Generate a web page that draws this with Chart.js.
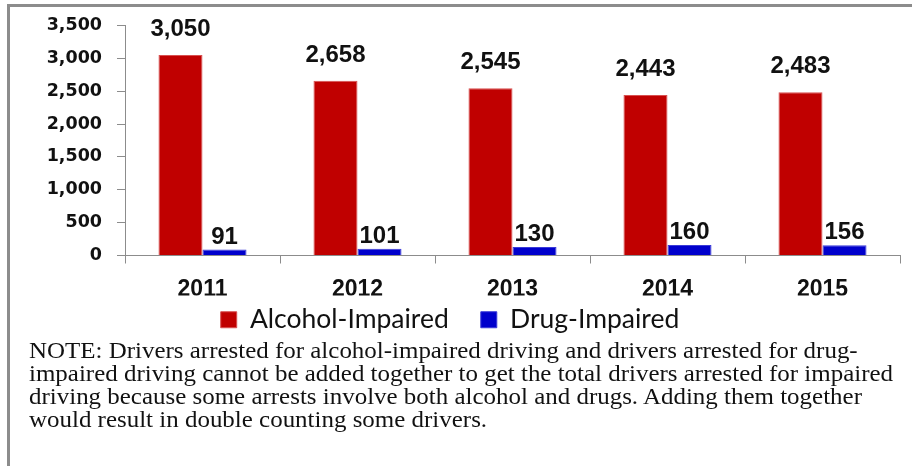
<!DOCTYPE html>
<html>
<head>
<meta charset="utf-8">
<script src="https://cdn.jsdelivr.net/npm/chart.js@4.4.1/dist/chart.umd.min.js"></script>
<style>
  html, body { margin: 0; padding: 0; background: #fff; }
  #wrap { position: relative; width: 912px; height: 466px; overflow: hidden; }
  #frame {
    position: absolute; left: 7px; top: 4px; right: -10px; bottom: -10px;
    border-top: 3px solid #8c8c8c; border-left: 3px solid #8c8c8c;
  }
  #chart { position: absolute; left: 0; top: 0; }
  #note {
    position: absolute; left: 29px; top: 339px;
    font-family: "Liberation Serif", serif; font-size: 23.5px; line-height: 23px;
    color: #111; white-space: nowrap; transform-origin: 0 0;
  }
</style>
</head>
<body>
<div id="wrap">
  <div id="frame"></div>
  <canvas id="chart" width="912" height="364"></canvas>
  <div id="note"></div>
</div>
<script>
// --- dados ---
const years = ['2011', '2012', '2013', '2014', '2015'];
const alcoholArrests = [3050, 2658, 2545, 2443, 2483];
const drugArrests = [91, 101, 130, 160, 156];
const yTicks = [0, 500, 1000, 1500, 2000, 2500, 3000, 3500];

const noteLines = [
    'NOTE: Drivers arrested for alcohol-impaired driving and drivers arrested for drug-',
    'impaired driving cannot be added together to get the total drivers arrested for impaired',
    'driving because some arrests involve both alcohol and drugs. Adding them together',
    'would result in double counting some drivers.'
];

const formatNum = (v) => v.toLocaleString('en-US');

// rótulos de valor acima de cada barra (distância da base do texto ao topo da barra)
const LABEL_GAP = [19, 6];
const barValueLabels = {
    id: 'barValueLabels',
    afterDatasetsDraw(chart) {
        const ctx = chart.ctx;
        ctx.save();
        ctx.font = 'bold 24px "Liberation Sans", Arial, sans-serif';
        ctx.fillStyle = '#111';
        ctx.textAlign = 'center';
        ctx.textBaseline = 'alphabetic';
        chart.data.datasets.forEach((ds, i) => {
            chart.getDatasetMeta(i).data.forEach((bar, j) => {
                ctx.fillText(formatNum(ds.data[j]), bar.x, bar.y - LABEL_GAP[i]);
            });
        });
        ctx.restore();
    }
};

// o padding da legenda serve ao espaçamento horizontal; sobe a legenda para junto dos anos
const LEGEND_SHIFT = -21;
const legendShift = {
    id: 'legendShift',
    beforeLayout(chart) {
        const lg = chart.legend;
        if (!lg || lg._shifted) return;
        const draw = lg.draw.bind(lg);
        lg.draw = function () {
            chart.ctx.save();
            chart.ctx.translate(0, LEGEND_SHIFT);
            draw();
            chart.ctx.restore();
        };
        lg._shifted = true;
    }
};

const ctx = document.getElementById('chart').getContext('2d');
new Chart(ctx, {
    type: 'bar',
    data: {
        labels: years,
        datasets: [{
            label: 'Alcohol-Impaired',
            data: alcoholArrests,
            backgroundColor: '#C00000',
            borderColor: '#D85050',
            borderWidth: 1
        }, {
            label: 'Drug-Impaired',
            data: drugArrests,
            backgroundColor: '#0000CC',
            borderColor: '#3A3AD8',
            borderWidth: 1
        }]
    },
    options: {
        responsive: false,
        animation: false,
        layout: { padding: { top: 20, right: 12, left: 0, bottom: 0 } },
        datasets: { bar: { categoryPercentage: 0.568, barPercentage: 1.0 } },
        scales: {
            x: {
                grid: { display: true, drawOnChartArea: false, offset: true, tickLength: 8, color: '#8c8c8c' },
                border: { color: '#8c8c8c' },
                ticks: {
                    padding: 12,
                    color: '#111',
                    font: { family: '"Liberation Sans", Arial, sans-serif', size: 23, weight: 'bold' }
                },
                afterFit: (scale) => { scale.height = 40; }
            },
            y: {
                min: 0,
                max: 3500,
                afterBuildTicks: (scale) => { scale.ticks = yTicks.map(v => ({ value: v })); },
                grid: { display: true, drawOnChartArea: false, tickLength: 8, color: '#8c8c8c' },
                border: { color: '#8c8c8c' },
                ticks: {
                    padding: 15,
                    color: '#111',
                    font: { family: '"DejaVu Sans", Verdana, sans-serif', size: 17.5, weight: 'bold' },
                    callback: (v) => formatNum(v)
                },
                afterFit: (scale) => { scale.width = 125; }
            }
        },
        plugins: {
            legend: {
                position: 'bottom',
                labels: {
                    boxWidth: 16,
                    boxHeight: 16,
                    padding: 32,
                    color: '#111',
                    font: { family: 'Lato, sans-serif', size: 26.5 }
                }
            },
            tooltip: { enabled: false }
        }
    },
    plugins: [barValueLabels, legendShift]
});

// nota de rodapé, ajustada à largura
const note = document.getElementById('note');
note.innerHTML = noteLines.map(l => '<div>' + l + '</div>').join('');
const widest = Math.max(...Array.from(note.children).map(d => {
    const r = document.createRange();
    r.selectNodeContents(d);
    return r.getBoundingClientRect().width;
}));
note.style.transform = 'scaleX(' + (864 / widest).toFixed(4) + ')';
</script>
</body>
</html>
